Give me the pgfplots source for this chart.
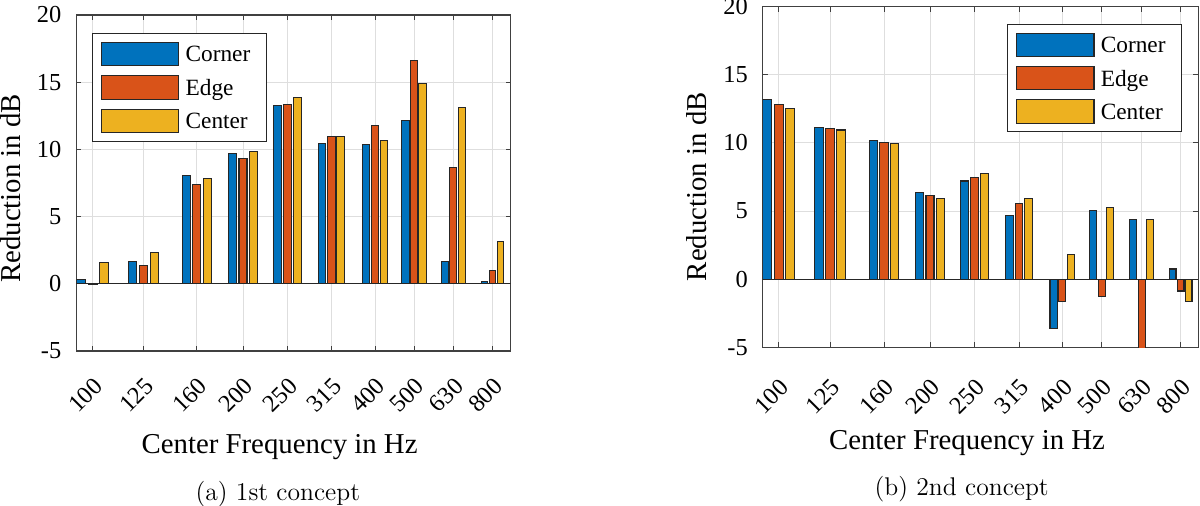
\documentclass[border=0pt]{standalone}
\usepackage{pgfplots}
\pgfplotsset{compat=1.18}
\usepackage{fontspec}
\newfontfamily\tnr{Liberation Serif}
\definecolor{mBlue}{HTML}{0072BD}
\definecolor{mOrange}{HTML}{D95319}
\definecolor{mYellow}{HTML}{EDB120}
\definecolor{edgec}{HTML}{262626}
\definecolor{axc}{HTML}{404040}
\pgfplotsset{
  bC/.style={ybar, fill=mBlue, draw=edgec, line width=0.55pt, forget plot},
  bE/.style={ybar, fill=mOrange, draw=edgec, line width=0.55pt, forget plot},
  bY/.style={ybar, fill=mYellow, draw=edgec, line width=0.55pt, forget plot},
  myax/.style={
    scale only axis, anchor=south west,
    xmin=0, ymin=-5, ymax=20,
    ytick={-5,0,5,10,15,20}, yticklabels={-5,0,5,10,15,20},
    xticklabels={100,125,160,200,250,315,400,500,630,800},
    xtick pos=both, ytick pos=both, xticklabel pos=lower, yticklabel pos=left,
    tick align=inside, major tick length=2.5pt,
    tick style={axc, line width=0.5pt},
    axis line style={axc, line width=0.6pt},
    grid=major, major grid style={line width=0.5pt, draw=black!13},
    ticklabel style={font=\tnr\fontsize{12.2}{13}\selectfont, text=black},
    xticklabel style={rotate=45, anchor=north east, inner sep=0pt},
    yticklabel style={anchor=east, inner sep=0pt},
    yticklabel shift=7.3pt,
    label style={font=\tnr\fontsize{14.4}{16}\selectfont},
    xlabel={Center Frequency in Hz}, ylabel={Reduction in dB},
    legend image code/.code={\draw[##1] (0pt,-5.825pt) rectangle (38.85pt,5.825pt);},
    legend style={draw=edgec, line width=0.5pt, fill=white,
      font=\tnr\fontsize{11.65}{13}\selectfont,
      inner xsep=4.15pt, inner ysep=4pt, row sep=4.5pt,
      nodes={inner sep=0pt, text depth=0pt, text width=36.05pt},
      cells={anchor=west},
      /tikz/every odd column/.style={column sep=3.15pt}},
  }
}
\begin{document}
\begin{tikzpicture}
\useasboundingbox (0,0) rectangle (600pt,252.5pt);
% ---------------- (a) 1st concept ----------------
\begin{axis}[myax, at={(38.15pt,77pt)}, width=217.2pt, height=168pt,
  xmax=434.4, xticklabel shift=12.5pt,
  xtick={16.4,67.2,120.5,166.7,211.1,255,298.7,337.7,377,416.3},
  xlabel style={at={(axis description cs:0.468,-0.3045)}, anchor=base},
  ylabel style={at={(axis description cs:-0.1296,0.4842)}, anchor=base},
  legend style={at={(axis description cs:0.0355,0.9455)}, anchor=north west}]
\addlegendimage{fill=mBlue, draw=edgec, line width=0.55pt}\addlegendentry{Corner}
\addlegendimage{fill=mOrange, draw=edgec, line width=0.55pt}\addlegendentry{Edge}
\addlegendimage{fill=mYellow, draw=edgec, line width=0.55pt}\addlegendentry{Center}
% 100
\addplot[bC, bar width=8.9, bar shift=-11.6] coordinates {(16.4,0.35)};
\addplot[bE, bar width=8.9, bar shift=0] coordinates {(16.4,-0.05)};
\addplot[bY, bar width=8.9, bar shift=11.6] coordinates {(16.4,1.57)};
% 125
\addplot[bC, bar width=8.7, bar shift=-11.0] coordinates {(67.2,1.68)};
\addplot[bE, bar width=8.7, bar shift=0] coordinates {(67.2,1.34)};
\addplot[bY, bar width=8.7, bar shift=11.0] coordinates {(67.2,2.31)};
% 160
\addplot[bC, bar width=8.2, bar shift=-10.5] coordinates {(120.5,8.09)};
\addplot[bE, bar width=8.2, bar shift=0] coordinates {(120.5,7.37)};
\addplot[bY, bar width=8.2, bar shift=10.5] coordinates {(120.5,7.81)};
% 200
\addplot[bC, bar width=8.0, bar shift=-10.2] coordinates {(166.7,9.72)};
\addplot[bE, bar width=8.0, bar shift=0] coordinates {(166.7,9.30)};
\addplot[bY, bar width=8.0, bar shift=10.2] coordinates {(166.7,9.82)};
% 250
\addplot[bC, bar width=8.0, bar shift=-10.0] coordinates {(211.1,13.30)};
\addplot[bE, bar width=8.0, bar shift=0] coordinates {(211.1,13.37)};
\addplot[bY, bar width=8.0, bar shift=10.0] coordinates {(211.1,13.84)};
% 315
\addplot[bC, bar width=7.7, bar shift=-9.4] coordinates {(255,10.47)};
\addplot[bE, bar width=7.7, bar shift=0] coordinates {(255,10.96)};
\addplot[bY, bar width=7.7, bar shift=9.4] coordinates {(255,10.99)};
% 400
\addplot[bC, bar width=7.2, bar shift=-8.7] coordinates {(298.7,10.37)};
\addplot[bE, bar width=7.2, bar shift=0] coordinates {(298.7,11.81)};
\addplot[bY, bar width=7.2, bar shift=8.7] coordinates {(298.7,10.69)};
% 500
\addplot[bC, bar width=7.2, bar shift=-8.5] coordinates {(337.7,12.15)};
\addplot[bE, bar width=7.2, bar shift=0] coordinates {(337.7,16.62)};
\addplot[bY, bar width=7.2, bar shift=8.5] coordinates {(337.7,14.90)};
% 630
\addplot[bC, bar width=6.9, bar shift=-8.5] coordinates {(377,1.69)};
\addplot[bE, bar width=6.9, bar shift=0] coordinates {(377,8.68)};
\addplot[bY, bar width=6.9, bar shift=8.5] coordinates {(377,13.12)};
% 800
\addplot[bC, bar width=6.5, bar shift=-8.0] coordinates {(416.3,0.18)};
\addplot[bE, bar width=6.5, bar shift=0] coordinates {(416.3,0.97)};
\addplot[bY, bar width=6.5, bar shift=8.0] coordinates {(416.3,3.18)};
% baseline
\addplot[edgec, line width=0.5pt, forget plot] coordinates {(0,0) (434.4,0)};
\end{axis}
% ---------------- (b) 2nd concept ----------------
\begin{axis}[myax, at={(381.35pt,78.85pt)}, width=217.8pt, height=170.3pt,
  xmax=435.6, xticklabel shift=15pt,
  xtick={16,67.3,121.3,167.3,211.6,256.3,299.6,339,379,418},
  xlabel style={at={(axis description cs:0.469,-0.3015)}, anchor=base},
  ylabel style={at={(axis description cs:-0.1286,0.4715)}, anchor=base},
  legend style={at={(axis description cs:0.9619,0.9492)}, anchor=north east}]
\addlegendimage{fill=mBlue, draw=edgec, line width=0.55pt}\addlegendentry{Corner}
\addlegendimage{fill=mOrange, draw=edgec, line width=0.55pt}\addlegendentry{Edge}
\addlegendimage{fill=mYellow, draw=edgec, line width=0.55pt}\addlegendentry{Center}
% 100
\addplot[bC, bar width=8.9, bar shift=-11.6] coordinates {(16,13.16)};
\addplot[bE, bar width=8.9, bar shift=0] coordinates {(16,12.79)};
\addplot[bY, bar width=8.9, bar shift=11.6] coordinates {(16,12.50)};
% 125
\addplot[bC, bar width=8.7, bar shift=-11.0] coordinates {(67.3,11.15)};
\addplot[bE, bar width=8.7, bar shift=0] coordinates {(67.3,11.05)};
\addplot[bY, bar width=8.7, bar shift=11.0] coordinates {(67.3,10.95)};
% 160
\addplot[bC, bar width=8.2, bar shift=-10.5] coordinates {(121.3,10.17)};
\addplot[bE, bar width=8.2, bar shift=0] coordinates {(121.3,10.05)};
\addplot[bY, bar width=8.2, bar shift=10.5] coordinates {(121.3,9.98)};
% 200
\addplot[bC, bar width=8.0, bar shift=-10.2] coordinates {(167.3,6.35)};
\addplot[bE, bar width=8.0, bar shift=0] coordinates {(167.3,6.13)};
\addplot[bY, bar width=8.0, bar shift=10.2] coordinates {(167.3,5.91)};
% 250
\addplot[bC, bar width=8.0, bar shift=-10.0] coordinates {(211.6,7.21)};
\addplot[bE, bar width=8.0, bar shift=0] coordinates {(211.6,7.45)};
\addplot[bY, bar width=8.0, bar shift=10.0] coordinates {(211.6,7.75)};
% 315
\addplot[bC, bar width=7.7, bar shift=-9.4] coordinates {(256.3,4.69)};
\addplot[bE, bar width=7.7, bar shift=0] coordinates {(256.3,5.54)};
\addplot[bY, bar width=7.7, bar shift=9.4] coordinates {(256.3,5.91)};
% 400
\addplot[bC, bar width=7.2, bar shift=-8.7] coordinates {(299.6,-3.60)};
\addplot[bE, bar width=7.2, bar shift=0] coordinates {(299.6,-1.65)};
\addplot[bY, bar width=7.2, bar shift=8.7] coordinates {(299.6,1.80)};
% 500
\addplot[bC, bar width=7.2, bar shift=-8.5] coordinates {(339,5.06)};
\addplot[bE, bar width=7.2, bar shift=0] coordinates {(339,-1.28)};
\addplot[bY, bar width=7.2, bar shift=8.5] coordinates {(339,5.28)};
% 630
\addplot[bC, bar width=6.9, bar shift=-8.5] coordinates {(379,4.37)};
\addplot[bE, bar width=6.9, bar shift=0] coordinates {(379,-6.00)};
\addplot[bY, bar width=6.9, bar shift=8.5] coordinates {(379,4.35)};
% 800
\addplot[bC, bar width=6.5, bar shift=-8.0] coordinates {(418,0.75)};
\addplot[bE, bar width=6.5, bar shift=0] coordinates {(418,-0.87)};
\addplot[bY, bar width=6.5, bar shift=8.0] coordinates {(418,-1.65)};
% baseline
\addplot[edgec, line width=0.5pt, forget plot] coordinates {(0,0) (435.6,0)};
\end{axis}
\node[anchor=base, font=\fontsize{12.8}{15}\selectfont] at (138.9pt,2.05pt) {(a) 1st concept};
\node[anchor=base, font=\fontsize{12.8}{15}\selectfont] at (480.85pt,4.55pt) {(b) 2nd concept};
\end{tikzpicture}
\end{document}
